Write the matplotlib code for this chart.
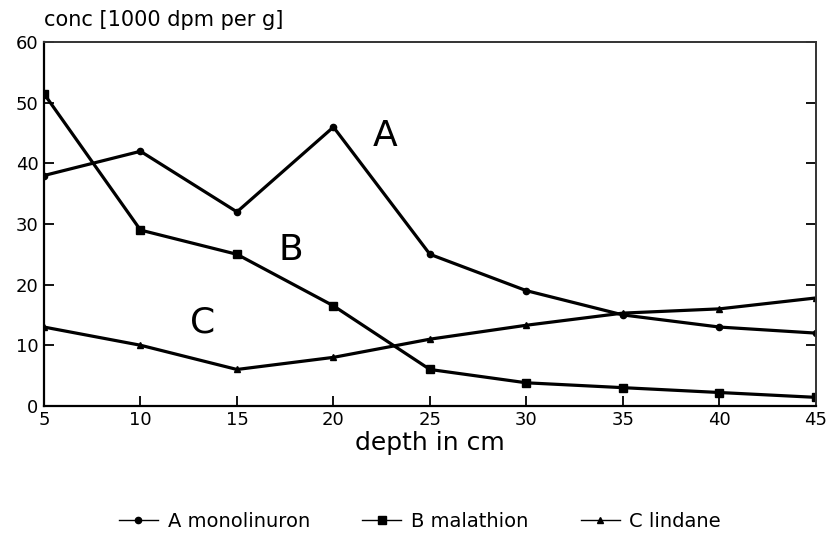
import matplotlib.pyplot as plt
from matplotlib.lines import Line2D

plt.rcParams["font.family"] = ["DejaVu Sans"]

depth = [5, 10, 15, 20, 25, 30, 35, 40, 45]
monolinuron = [38, 42, 32, 46, 25, 19, 15, 13, 12]
malathion = [51.5, 29, 25, 16.5, 6, 3.8, 3, 2.2, 1.4]
lindane = [13, 10, 6, 8, 11, 13.3, 15.3, 16, 17.8]

names = ["A monolinuron", "B malathion", "C lindane"]
markers = ["o", "s", "^"]
marker_sizes = [4.5, 5.5, 5]

x_ticks = [5, 10, 15, 20, 25, 30, 35, 40, 45]
y_ticks = [0, 10, 20, 30, 40, 50, 60]

fig = plt.figure(figsize=(8.3, 5.34), dpi=100)
ax = fig.add_axes([0.053, 0.24, 0.93, 0.681])

lw = 2.3
for values, m, ms in zip([monolinuron, malathion, lindane], markers, marker_sizes):
    ax.plot(depth, values, color="black", lw=lw, marker=m, ms=ms)

# curve letters next to each line
ax.text(22.7, 44.6, "A", fontsize=26, ha="center", va="center")
ax.text(17.8, 25.7, "B", fontsize=26, ha="center", va="center")
ax.text(13.2, 13.8, "C", fontsize=26, ha="center", va="center")

ax.set_xlim(5, 45)
ax.set_ylim(0, 60)
ax.set_xticks(x_ticks)
ax.set_yticks(y_ticks)
ax.tick_params(axis="both", direction="in", length=7, width=1.3,
               labelsize=13, colors="black")
ax.tick_params(axis="y", right=True, pad=4)
ax.tick_params(axis="x", pad=4)

for side in ["left", "bottom"]:
    ax.spines[side].set_linewidth(1.6)
for side in ["top", "right"]:
    ax.spines[side].set_linewidth(1.4)
    ax.spines[side].set_color("#333333")

ax.set_xlabel("depth in cm", fontsize=18, labelpad=1)
fig.text(0.053, 0.962, "conc [1000 dpm per g]", fontsize=15,
         ha="left", va="center")

# legend handles use a thin line with the series marker
handles = [Line2D([], [], color="black", lw=1.0, marker=m, ms=ms)
           for m, ms in zip(markers, marker_sizes)]
fig.legend(handles, names, loc="center", bbox_to_anchor=(0.506, 0.024),
           ncol=3, frameon=False, fontsize=14, handlelength=2.0,
           columnspacing=2.7, handletextpad=0.5)

fig.savefig("out.png", dpi=100)
